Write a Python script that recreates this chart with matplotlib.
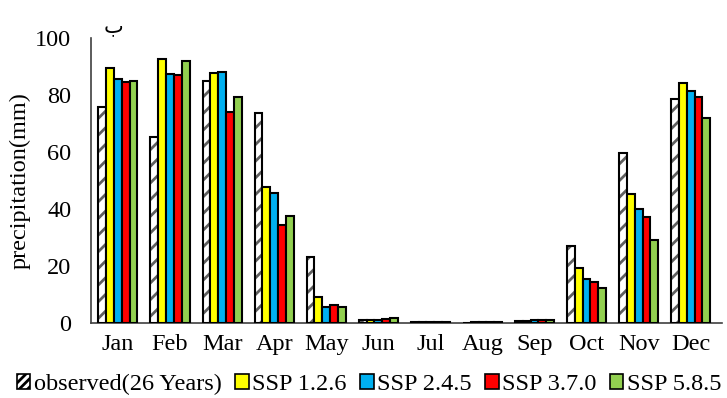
import matplotlib
matplotlib.use("Agg")
import matplotlib.pyplot as plt
from matplotlib.patches import Patch
import numpy as np

plt.rcParams['font.family'] = ['Liberation Serif', 'DejaVu Sans']
plt.rcParams['hatch.linewidth'] = 2.0

months = ["Jan", "Feb", "Mar", "Apr", "May", "Jun",
          "Jul", "Aug", "Sep", "Oct", "Nov", "Dec"]

observed = [75.7, 65.2, 84.9, 73.6, 23.3, 1.2, 0.3, 0.2, 0.6, 27.1, 59.5, 78.5]
ssp126 = [89.4, 92.6, 87.7, 47.6, 9.1, 1.2, 0.4, 0.3, 0.8, 19.4, 45.1, 84.3]
ssp245 = [85.7, 87.4, 88.0, 45.7, 5.5, 1.2, 0.4, 0.3, 1.1, 15.6, 40.1, 81.5]
ssp370 = [84.4, 87.0, 74.0, 34.4, 6.3, 1.3, 0.4, 0.3, 1.1, 14.6, 37.3, 79.4]
ssp585 = [84.7, 92.0, 79.4, 37.5, 5.7, 1.7, 0.4, 0.3, 1.0, 12.4, 29.0, 72.0]

series_names = ["SSP 1.2.6", "SSP 2.4.5", "SSP 3.7.0", "SSP 5.8.5"]
series_vals = [ssp126, ssp245, ssp370, ssp585]
colors = ["#FFFF00", "#00B0F0", "#FF0000", "#92D050"]

fig = plt.figure(figsize=(7.27, 3.98), dpi=100)
ax = fig.add_axes([0.125, 0.188, 0.868, 0.717])

x = np.arange(len(months))
w = 0.15
offs = (np.arange(5) - 2) * w

# observed: gray hatch first, then black outline on top
ax.bar(x + offs[0], observed, w, facecolor="white", edgecolor="#606060",
       hatch="//", linewidth=0, zorder=2)
ax.bar(x + offs[0], observed, w, facecolor="none", edgecolor="black",
       linewidth=1.5, zorder=3)

for i in range(4):
    ax.bar(x + offs[i + 1], series_vals[i], w, color=colors[i],
           edgecolor="black", linewidth=1.5, zorder=3)

ax.set_xlim(-0.52, 11.6)
ax.set_ylim(0, 100)
ax.set_yticks([0, 20, 40, 60, 80, 100])
ax.set_xticks(x)
ax.set_xticklabels(months)
ax.tick_params(axis="both", length=0, labelsize=17.5, colors="black")
ax.tick_params(axis="x", pad=8)
ax.tick_params(axis="y", pad=14)
ax.spines["top"].set_visible(False)
ax.spines["right"].set_visible(False)
ax.spines["left"].set_color("#404040")
ax.spines["bottom"].set_color("#404040")
ax.spines["left"].set_linewidth(1.2)
ax.spines["bottom"].set_linewidth(1.2)
ax.set_ylabel("precipitation(mm)", fontsize=17.5, labelpad=3)

fig.text(0.156, 0.935, "ب", fontsize=15, family="DejaVu Sans",
         ha="center", va="center")

handles = [Patch(facecolor="white", edgecolor="black", hatch="////",
                 linewidth=1.2, label="observed(26 Years)")]
for i in range(4):
    handles.append(Patch(facecolor=colors[i], edgecolor="black",
                         linewidth=1.2, label=series_names[i]))
fig.legend(handles=handles, loc="lower center", bbox_to_anchor=(0.508, -0.035),
           ncol=5, frameon=False, fontsize=17.5, handlelength=0.55,
           handleheight=0.55, handletextpad=0.15, columnspacing=0.55,
           borderpad=0.2)

fig.savefig("out.png", dpi=100)
